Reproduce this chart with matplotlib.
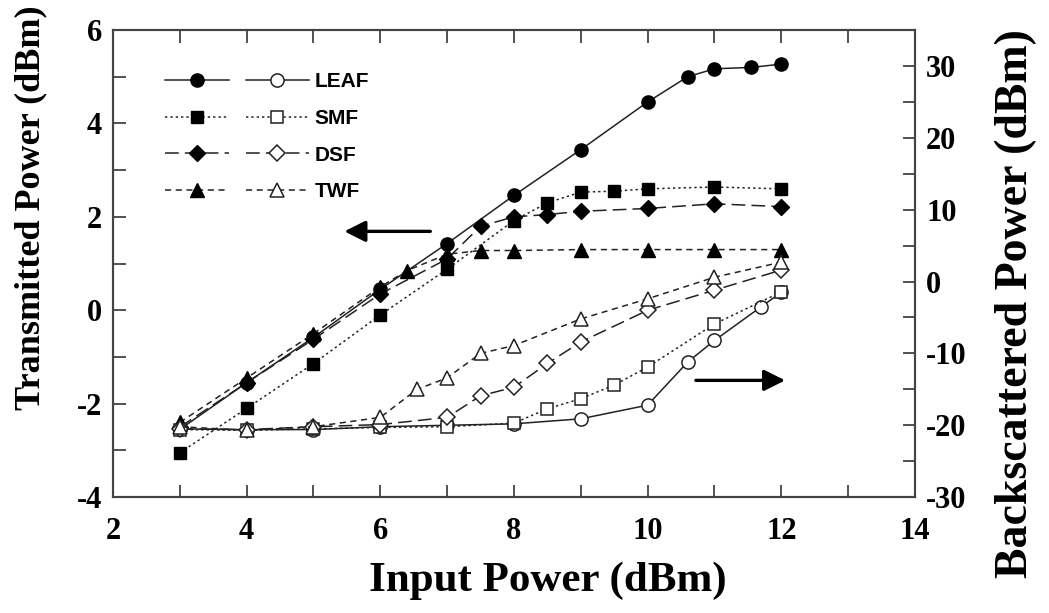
import numpy as np
import matplotlib
matplotlib.use('Agg')
import matplotlib.pyplot as plt
from matplotlib.ticker import MultipleLocator
from matplotlib.legend_handler import HandlerTuple

plt.rcParams['axes.unicode_minus'] = False

# transmitted power (left axis, filled markers)
leaf_x = [3, 4, 5, 6, 7, 8, 9, 10, 10.6, 11, 11.55, 12]
leaf_t = [-2.55, -1.55, -0.58, 0.45, 1.43, 2.46, 3.44, 4.46, 5.0, 5.17, 5.2, 5.27]
smf_x = [3, 4, 5, 6, 7, 8, 8.5, 9, 9.5, 10, 11, 12]
smf_t = [-3.05, -2.1, -1.14, -0.1, 0.88, 1.92, 2.3, 2.53, 2.55, 2.6, 2.64, 2.6]
dsf_x = [3, 4, 5, 6, 7, 7.5, 8, 8.5, 9, 10, 11, 12]
dsf_t = [-2.5, -1.55, -0.62, 0.35, 1.1, 1.8, 2.0, 2.05, 2.12, 2.18, 2.28, 2.22]
twf_x = [3, 4, 5, 6, 6.4, 7, 7.5, 8, 9, 10, 11, 12]
twf_t = [-2.4, -1.45, -0.5, 0.5, 0.85, 1.2, 1.28, 1.28, 1.3, 1.3, 1.3, 1.3]

# backscattered power (right axis, open markers)
leaf_bx = [3, 4, 5, 6, 7, 8, 9, 10, 10.6, 11, 11.7, 12]
leaf_b = [-20.5, -20.6, -20.6, -20.2, -20.0, -19.8, -19.1, -17.2, -11.2, -8.2, -3.5, -1.5]
smf_bx = [3, 4, 5, 6, 7, 8, 8.5, 9, 9.5, 10, 11, 12]
smf_b = [-20.6, -20.7, -20.5, -20.3, -20.2, -19.7, -17.7, -16.3, -14.4, -11.9, -5.9, -1.45]
dsf_bx = [3, 4, 5, 6, 7, 7.5, 8, 8.5, 9, 10, 11, 12]
dsf_b = [-20.5, -20.6, -20.2, -19.9, -18.9, -15.9, -14.7, -11.4, -8.4, -4.0, -1.2, 1.6]
twf_bx = [3, 4, 5, 6, 6.55, 7, 7.5, 8, 9, 10, 11, 12]
twf_b = [-20.2, -20.7, -20.2, -18.9, -15.0, -13.4, -10.0, -8.9, -5.2, -2.4, 0.6, 2.7]

names = ['LEAF', 'SMF', 'DSF', 'TWF']
markers = ['o', 's', 'D', '^']
msizes = [9.5, 9, 8.5, 9.5]
styles = ['-', (0, (1.5, 2)), (0, (9, 4)), (0, (4, 3))]

serif = 'Liberation Serif'

fig = plt.figure(figsize=(10.49, 6.13), dpi=100)
ax = fig.add_axes([0.1077, 0.189, 0.7645, 0.762])
ax2 = ax.twinx()

tx = [leaf_x, smf_x, dsf_x, twf_x]
ty = [leaf_t, smf_t, dsf_t, twf_t]
bx = [leaf_bx, smf_bx, dsf_bx, twf_bx]
by = [leaf_b, smf_b, dsf_b, twf_b]

filled = []
opened = []
for i in range(4):
    l1, = ax.plot(tx[i], ty[i], linestyle=styles[i], color='#222222', lw=1.1,
                  marker=markers[i], ms=msizes[i], mfc='black', mec='black')
    l2, = ax2.plot(bx[i], by[i], linestyle=styles[i], color='#222222', lw=1.1,
                   marker=markers[i], ms=msizes[i], mfc='white', mec='#222222', mew=1.1)
    filled.append(l1)
    opened.append(l2)

ax.set_xlim(2, 14)
ax.set_ylim(-4, 6)
ax2.set_ylim(-30, 35)
ax.xaxis.set_major_locator(MultipleLocator(2))
ax.xaxis.set_minor_locator(MultipleLocator(1))
ax.yaxis.set_major_locator(MultipleLocator(2))
ax.yaxis.set_minor_locator(MultipleLocator(1))
ax2.set_yticks([-30, -20, -10, 0, 10, 20, 30])
ax2.yaxis.set_minor_locator(MultipleLocator(5))

for a in (ax, ax2):
    a.tick_params(which='both', direction='in', top=True, width=1.2, colors='#333333',
                  labelcolor='black', labelsize=22, length=9)
    a.tick_params(axis='y', pad=8)
    a.tick_params(axis='x', pad=14)
    for s in a.spines.values():
        s.set_linewidth(1.5)
        s.set_color('#444444')
    for lab in a.get_xticklabels() + a.get_yticklabels():
        lab.set_fontfamily(serif)
        lab.set_fontweight('bold')

ax.set_xlabel('Input Power (dBm)', fontsize=31, fontfamily=serif, fontweight='bold')
ax.xaxis.set_label_coords(0.542, -0.138)
ax.set_ylabel('Transmitted Power (dBm)', fontsize=26, fontfamily=serif, fontweight='bold')
ax.yaxis.set_label_coords(-0.082, 0.62)
ax2.set_ylabel('Backscattered Power (dBm)', fontsize=33, fontfamily=serif, fontweight='bold')
ax2.yaxis.set_label_coords(1.1, 0.415)

ax.annotate('', xy=(5.42, 1.69), xytext=(6.79, 1.69),
            arrowprops=dict(arrowstyle='-|>', lw=2.4, color='black', mutation_scale=32))
ax.annotate('', xy=(12.1, -1.5), xytext=(10.68, -1.5),
            arrowprops=dict(arrowstyle='-|>', lw=2.4, color='black', mutation_scale=32))

leg = ax2.legend([(filled[i], opened[i]) for i in range(4)], names,
                 handler_map={tuple: HandlerTuple(ndivide=None, pad=0.8)},
                 loc='upper left', bbox_to_anchor=(0.042, 0.95), frameon=False,
                 handlelength=6.9, handletextpad=0.25, labelspacing=0.85,
                 prop={'family': 'Liberation Sans', 'weight': 'bold', 'size': 15})

fig.savefig('out.png', dpi=100)
